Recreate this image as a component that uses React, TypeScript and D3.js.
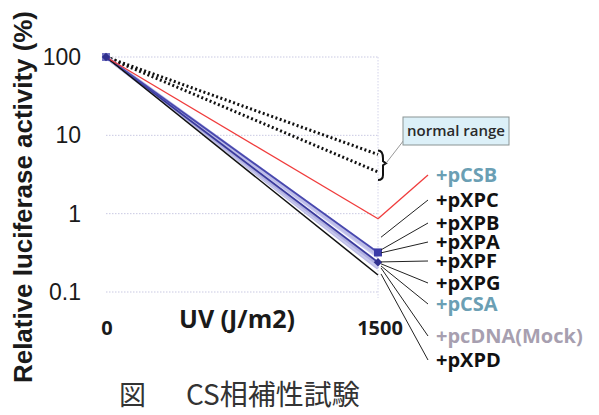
import React from 'react'
import * as d3 from 'd3'

// UV dose (J/m2) and relative luciferase activity (%)
const doses = [0, 1500]
const yTicks = [100, 10, 1, 0.1]
const xTickLabels = ['0', '1500']

const normalUpper = [100, 5.7]
const normalLower = [100, 3.4]
const pCSB = [100, 0.86]
const pXPC = [100, 0.28]
const pXPB = [100, 0.3]
const pXPA = [100, 0.32]
const pXPF = [100, 0.24]
const pXPG = [100, 0.225]
const pCSA = [100, 0.21]
const pcDNA = [100, 0.2]
const pXPD = [100, 0.165]

// legend labels and where their leader lines point (value at 1500 J/m2)
const labelNames = ['+pCSB', '+pXPC', '+pXPB', '+pXPA', '+pXPF', '+pXPG', '+pCSA', '+pcDNA(Mock)', '+pXPD']
const leaderTargets = [0.86, 0.5, 0.345, 0.316, 0.242, 0.229, 0.215, 0.203, 0.17]

const W = 599
const H = 415

const x = d3.scaleLinear().domain([0, 1500]).range([106, 378])
const y = d3.scaleLog().domain([0.1, 100]).range([292, 57])

const line = d3
  .line<number>()
  .x((d, i) => x(doses[i]))
  .y(d => y(d))

const series = [
  { v: pcDNA, color: '#bcbce6', w: 3 },
  { v: pCSA, color: '#c8c8ee', w: 3 },
  { v: pXPG, color: '#b0b0e0', w: 3 },
  { v: pXPC, color: '#ccccf0', w: 3 },
  { v: pXPB, color: '#bdbde8', w: 4 },
  { v: pXPF, color: '#3a3a9c', w: 1.8 },
  { v: pXPA, color: '#4848ae', w: 1.8 },
  { v: pXPD, color: '#111111', w: 1.5 },
  { v: pCSB, color: '#f03c3c', w: 1.3 },
]

const labelColors = ['#6b9fb4', '#111', '#111', '#111', '#111', '#111', '#6b9fb4', '#a79fb0', '#111']
const labelBaselines = [182, 207, 230, 249, 268, 290, 311, 343, 367]

export default function App() {
  const xEnd = x(1500)
  const yU = y(normalUpper[1])
  const yL = y(normalLower[1])
  const yM = (yU + yL) / 2
  return (
    <svg width={W} height={H} style={{ position: 'absolute', left: 0, top: 0, background: '#fff' }}>
      {/* grid */}
      {yTicks.map(t => (
        <line key={t} x1={x(0)} x2={xEnd} y1={y(t)} y2={y(t)} stroke="#c9c9e2" strokeWidth={1} strokeDasharray="1.5,1.5" />
      ))}
      <line x1={xEnd} x2={xEnd} y1={y(100)} y2={y(0.1) + 6} stroke="#d4d4ea" strokeWidth={1} strokeDasharray="1.5,1.5" />

      {/* y tick labels */}
      {yTicks.map(t => (
        <text key={t} x={81} y={y(t) + 8} textAnchor="end" fontFamily="Liberation Sans" fontSize={23} fill="#1a1a1a">
          {t}
        </text>
      ))}

      {/* y axis title */}
      <text
        transform={`translate(32,197) rotate(-90)`}
        textAnchor="middle"
        fontFamily="Liberation Sans"
        fontWeight="bold"
        fontSize={26}
        textLength={372}
        lengthAdjust="spacingAndGlyphs"
        fill="#1a1a1a"
      >
        Relative luciferase activity (%)
      </text>

      {/* x labels */}
      {xTickLabels.map((l, i) => (
        <text key={l} x={x(doses[i]) + (i ? 2 : 1)} y={335} textAnchor="middle" fontFamily="Open Sans" fontWeight="bold" fontSize={20} fill="#1a1a1a">
          {l}
        </text>
      ))}
      <text x={237} y={328} textAnchor="middle" fontFamily="Open Sans" fontWeight="bold" fontSize={25} fill="#1a1a1a">
        UV (J/m2)
      </text>

      {/* normal range */}
      {[normalUpper, normalLower].map((v, i) => (
        <path key={i} d={line(v) || ''} fill="none" stroke="#111" strokeWidth={3} strokeDasharray="2,2.5" />
      ))}

      {/* series */}
      {series.map((s, i) => (
        <path key={i} d={line(s.v) || ''} fill="none" stroke={s.color} strokeWidth={s.w} />
      ))}
      {pXPA.map((v, i) => (
        <rect key={'a' + i} x={x(doses[i]) - 4} y={y(v) - 4} width={8} height={8} fill="#3b3ba8" opacity={i ? 1 : 0.7} />
      ))}
      {pXPF.map((v, i) => (
        <rect
          key={'f' + i}
          x={x(doses[i]) - 3}
          y={y(v) - 3}
          width={6}
          height={6}
          fill="#30308e"
          transform={`rotate(45,${x(doses[i])},${y(v)})`}
        />
      ))}

      {/* leaders */}
      {leaderTargets.map((t, i) => (
        <line
          key={i}
          x1={i === 0 ? xEnd : xEnd + 3}
          y1={y(t)}
          x2={428}
          y2={labelBaselines[i] - 7}
          stroke={i === 0 ? '#f03c3c' : '#222'}
          strokeWidth={i === 0 ? 1.3 : 1}
        />
      ))}
      {labelNames.map((n, i) => (
        <text key={n} x={436} y={labelBaselines[i]} fontFamily="Open Sans" fontWeight="bold" fontSize={20} fill={labelColors[i]}>
          {n}
        </text>
      ))}

      {/* bracket + callout */}
      <path
        d={`M${xEnd},${yU - 4} Q${xEnd + 5},${yU - 4} ${xEnd + 5},${yU + 4} L${xEnd + 5},${yM - 2} L${xEnd + 8},${yM} L${xEnd + 5},${
          yM + 2
        } L${xEnd + 5},${yL + 3} Q${xEnd + 5},${yL + 8} ${xEnd},${yL + 8}`}
        fill="none"
        stroke="#111"
        strokeWidth={2}
      />
      <line x1={xEnd + 8} y1={yM} x2={404} y2={140} stroke="#999" strokeWidth={1} />
      <rect x={403} y={117} width={106} height={28} fill="#dcf0f8" stroke="#8a9494" strokeWidth={1} />
      <text x={456} y={136} textAnchor="middle" fontFamily="Open Sans" fontWeight={600} fontSize={15} fill="#2a2a2a">
        normal range
      </text>

      {/* caption */}
      <text x={119} y={405} fontFamily="Noto Sans CJK JP" fontSize={27} fill="#333">
        図
      </text>
      <text x={186} y={405} fontFamily="Noto Sans CJK JP" fontSize={28} fill="#333">
        CS相補性試験
      </text>
    </svg>
  )
}
